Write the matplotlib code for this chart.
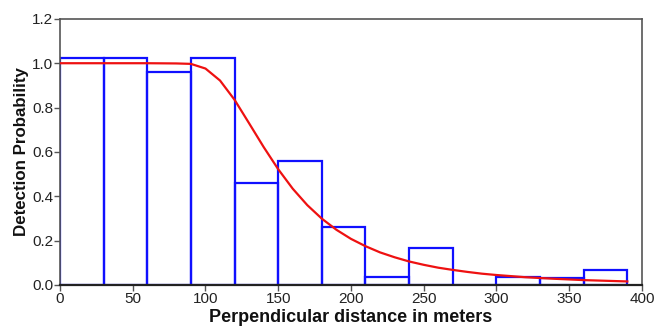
import matplotlib.pyplot as plt

# histogram of scaled detection counts, 30 m bins
bin_left = [0, 30, 60, 90, 120, 150, 180, 210, 240, 270, 300, 330, 360]
bin_height = [1.025, 1.025, 0.96, 1.025, 0.46, 0.56, 0.263, 0.037, 0.166, 0.0, 0.035, 0.03, 0.068]
bin_width = 30

# fitted detection function
curve_x = [0, 20, 40, 60, 80, 90, 100, 110, 120, 130, 140, 150, 160, 170, 180, 190, 200,
           210, 220, 230, 240, 250, 260, 270, 280, 290, 300, 320, 340, 360, 380, 390]
curve_y = [1.0, 1.0, 1.0, 1.0, 0.999, 0.997, 0.976, 0.922, 0.835, 0.729, 0.622, 0.522, 0.434,
           0.36, 0.299, 0.249, 0.208, 0.175, 0.147, 0.125, 0.106, 0.091, 0.078, 0.068, 0.059,
           0.051, 0.045, 0.035, 0.028, 0.022, 0.018, 0.016]

x_ticks = [0, 50, 100, 150, 200, 250, 300, 350, 400]
y_ticks = [0.0, 0.2, 0.4, 0.6, 0.8, 1.0, 1.2]

plt.rcParams['font.family'] = ['Liberation Sans', 'DejaVu Sans']

fig = plt.figure(figsize=(6.55, 3.31), dpi=100)
ax = fig.add_axes([0.0916, 0.139, 0.8884, 0.804])

frame_color = '#555555'
text_color = '#222222'

ax.bar(bin_left, bin_height, width=bin_width, align='edge', fill=False,
       edgecolor='#1010ff', linewidth=1.6, zorder=2)
ax.plot(curve_x, curve_y, color='#ee1111', linewidth=1.6, zorder=3)

ax.set_xlim(0, 400)
ax.set_ylim(0, 1.2)
ax.set_xticks(x_ticks)
ax.set_yticks(y_ticks)
ax.set_xticklabels([str(v) for v in x_ticks])
ax.set_yticklabels(['%.1f' % v for v in y_ticks])

for side in ['top', 'right', 'left']:
    ax.spines[side].set_color(frame_color)
    ax.spines[side].set_linewidth(1.2)
ax.spines['bottom'].set_color('#222222')
ax.spines['bottom'].set_linewidth(1.6)

ax.tick_params(axis='both', direction='out', length=4, width=1, colors=frame_color,
               labelsize=11, labelcolor=text_color, pad=1)

ax.set_xlabel('Perpendicular distance in meters', fontsize=13, fontweight='bold',
              color='#111111', labelpad=2)
ax.set_ylabel('Detection Probability', fontsize=12.2, fontweight='bold',
              color='#111111', labelpad=2)

fig.savefig('out.png', dpi=100)
